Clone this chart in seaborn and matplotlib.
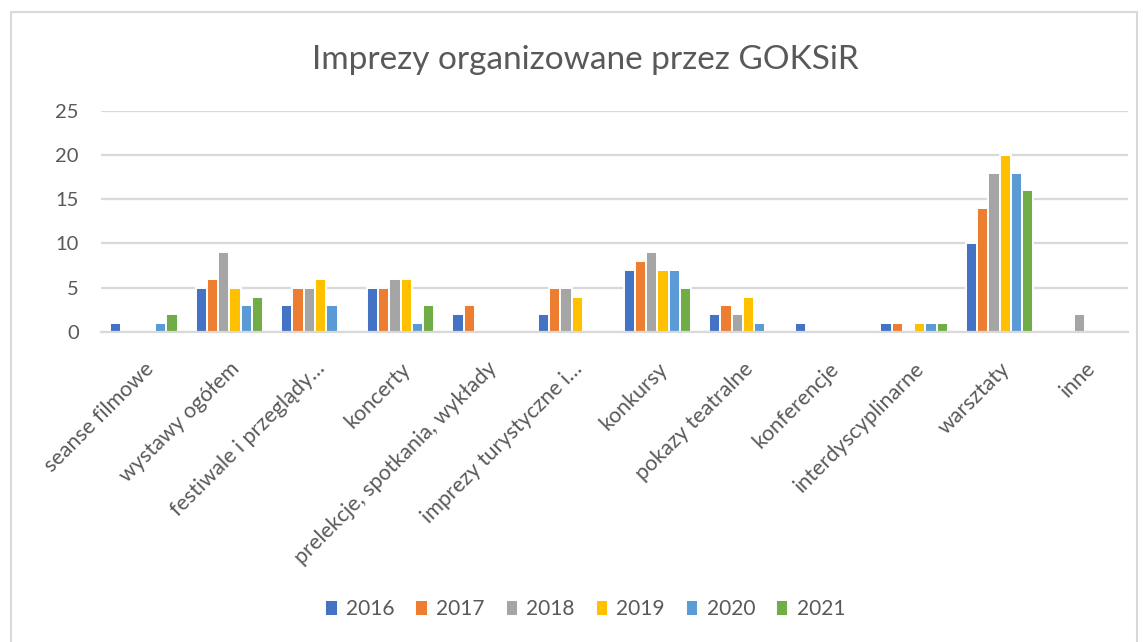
import pandas as pd
import seaborn as sns
import matplotlib.pyplot as plt
from matplotlib.patches import Rectangle

# Values, one list per year
categories = ["seanse filmowe", "wystawy ogółem", "festiwale i przeglądy…", "koncerty",
              "prelekcje, spotkania, wykłady", "imprezy turystyczne i…", "konkursy",
              "pokazy teatralne", "konferencje", "interdyscyplinarne", "warsztaty", "inne"]
years = ["2016", "2017", "2018", "2019", "2020", "2021"]
v2016 = [1, 5, 3, 5, 2, 2, 7, 2, 1, 1, 10, 0]
v2017 = [0, 6, 5, 5, 3, 5, 8, 3, 0, 1, 14, 0]
v2018 = [0, 9, 5, 6, 0, 5, 9, 2, 0, 0, 18, 2]
v2019 = [0, 5, 6, 6, 0, 4, 7, 4, 0, 1, 20, 0]
v2020 = [1, 3, 3, 1, 0, 0, 7, 1, 0, 1, 18, 0]
v2021 = [2, 4, 0, 3, 0, 0, 5, 0, 0, 1, 16, 0]
colors = ["#4472C4", "#ED7D31", "#A5A5A5", "#FFC000", "#5B9BD5", "#70AD47"]

# long format for seaborn
rows = []
for year, vals in zip(years, [v2016, v2017, v2018, v2019, v2020, v2021]):
    for cat, v in zip(categories, vals):
        rows.append({"kategoria": cat, "rok": year, "liczba": v})
df = pd.DataFrame(rows)

sns.set_theme(style="white")
plt.rcParams["font.family"] = ["Lato", "DejaVu Sans"]
txt = "#595959"
grid = "#D9D9D9"

fig = plt.figure(figsize=(11.43, 6.42), dpi=100)
ax = fig.add_axes([0.0884, 0.4829, 0.8985, 0.3447])

sns.barplot(data=df, x="kategoria", y="liczba", hue="rok", palette=colors, saturation=1,
            width=0.79, edgecolor="white", linewidth=1.4, ax=ax)

ax.set_xlim(-0.5, len(categories) - 0.5)
ax.set_ylim(0, 25)
ax.set_yticks(range(0, 26, 5))
ax.yaxis.grid(True, color=grid, linewidth=1.6)
ax.set_axisbelow(True)
for s in ["top", "right", "left"]:
    ax.spines[s].set_visible(False)
ax.spines["bottom"].set_color(grid)
ax.spines["bottom"].set_linewidth(1.6)
ax.set_xlabel("")
ax.set_ylabel("")
ax.tick_params(axis="both", length=0, labelcolor=txt)
ax.tick_params(axis="y", pad=16, labelsize=14.5)
ax.tick_params(axis="x", pad=19, labelsize=15.5)
for lab in ax.get_xticklabels():
    lab.set_rotation(45)
    lab.set_ha("right")
    lab.set_rotation_mode("anchor")

fig.text(0.512, 0.907, "Imprezy organizowane przez GOKSiR", ha="center", va="center",
         fontsize=24, color=txt)

sns.move_legend(ax, "center", bbox_to_anchor=(0.512, 0.051), bbox_transform=fig.transFigure,
                ncol=6, frameon=False, title=None, fontsize=15, handlelength=0.6,
                handleheight=0.8, columnspacing=1.0, handletextpad=0.4, labelcolor=txt)

# light chart frame
fig.patches.append(Rectangle((11 / 1143, -0.05), 1126 / 1143, 1.05 - 12 / 642,
                             transform=fig.transFigure, fill=False,
                             edgecolor="#D9D9D9", linewidth=1.5))

fig.savefig("out.png", dpi=100, facecolor="white")
